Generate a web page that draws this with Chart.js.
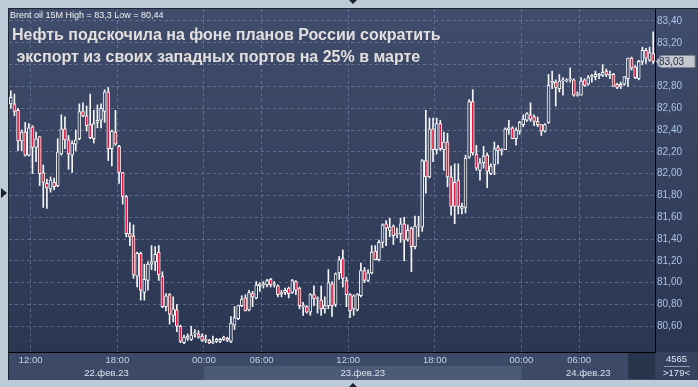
<!DOCTYPE html>
<html>
<head>
<meta charset="utf-8">
<script src="https://cdn.jsdelivr.net/npm/chart.js@4.4.0/dist/chart.umd.min.js"></script>
<style>
  html, body { margin: 0; padding: 0; background: #bfcad8; }
  body { width: 698px; height: 387px; position: relative; overflow: hidden; font-family: "Liberation Sans", Arial, sans-serif; }
  #frame { position: absolute; left: 8px; top: 8px; width: 690px; height: 372px; box-sizing: border-box;
           border-left: 1px solid #1d2434; border-top: 1px solid #1d2434; }
  canvas { display: block; }
  .hdr { position: absolute; left: 10px; top: 11px; font-size: 9px; line-height: 9px; color: #f2f2f2; white-space: pre; }
  .title { position: absolute; left: 12px; font-size: 16px; line-height: 16px; font-weight: bold; color: #e3dfdf; white-space: pre; }
  .tri { position: absolute; width: 0; height: 0; }
</style>
</head>
<body>

<div id="frame">
  <canvas id="brentChart" width="689" height="371"></canvas>
</div>

<div class="hdr">Brent oil 15M High = 83,3 Low = 80,44</div>
<div class="title" style="top:27px">Нефть подскочила на фоне планов России сократить</div>
<div class="title" style="top:49px"> экспорт из своих западных портов на 25% в марте</div>

<div class="tri" style="left:1px; top:188px; border-left:6px solid #1b2030; border-top:5px solid transparent; border-bottom:5px solid transparent;"></div>
<div class="tri" style="left:349px; top:0; border-top:4px solid #1b2030; border-left:4px solid transparent; border-right:4px solid transparent;"></div>
<div class="tri" style="left:349px; top:383px; border-bottom:4px solid #1b2030; border-left:4px solid transparent; border-right:4px solid transparent;"></div>

<script>
// ============================================
// BRENT OIL 15M — DATA
// ============================================

const OPEN = [
  82.64, 82.64, 82.58, 82.30, 82.38, 82.17, 82.43, 82.24, 82.34, 82.01,
  81.91, 81.86, 81.92, 81.89, 82.18, 82.41, 82.31, 82.17, 82.27, 82.32,
  82.57, 82.53, 82.45, 82.32, 82.47, 82.49, 82.57, 82.75, 82.23, 82.38,
  82.25, 82.01, 81.79, 81.45, 81.43, 81.06, 81.27, 80.91, 81.02, 81.17,
  81.19, 81.28, 81.06, 80.78, 80.89, 80.70, 80.75, 80.60, 80.45, 80.49,
  80.48, 80.53, 80.53, 80.51, 80.47, 80.47, 80.45, 80.46, 80.46, 80.50,
  80.47, 80.46, 80.61, 80.67, 80.79, 80.86, 80.75, 80.90, 80.86, 80.97,
  80.98, 80.98, 81.03, 80.98, 80.97, 80.90, 80.91, 80.95, 80.91, 81.01,
  80.95, 80.78, 80.78, 80.73, 80.89, 80.85, 80.84, 80.76, 80.79, 80.99,
  80.80, 81.09, 81.22, 81.02, 80.89, 80.76, 80.75, 80.88, 81.11, 81.02,
  81.09, 81.29, 81.21, 81.37, 81.54, 81.48, 81.52, 81.44, 81.45, 81.54,
  81.40, 81.50, 81.33, 81.52, 81.51, 82.12, 81.97, 82.41, 82.22, 82.46,
  82.22, 82.29, 81.97, 81.92, 81.94, 81.68, 81.69, 82.15, 82.66, 82.18,
  82.03, 82.10, 82.17, 82.00, 82.08, 82.24, 82.21, 82.22, 82.40, 82.42,
  82.32, 82.39, 82.45, 82.49, 82.54, 82.52, 82.48, 82.45, 82.39, 82.47,
  82.83, 82.84, 82.78, 82.85, 82.85, 82.86, 82.86, 82.72, 82.72, 82.86,
  82.82, 82.89, 82.89, 82.90, 82.90, 82.94, 82.90, 82.91, 82.82, 82.80,
  82.82, 82.87, 83.06, 82.98, 82.87, 83.03, 83.13, 83.04, 83.10
];

const HIGH = [
  82.76, 82.73, 82.60, 82.40, 82.47, 82.46, 82.44, 82.38, 82.34, 82.08,
  81.95, 81.97, 81.96, 82.32, 82.54, 82.52, 82.35, 82.30, 82.40, 82.64,
  82.65, 82.62, 82.73, 82.58, 82.63, 82.64, 82.77, 82.79, 82.40, 82.58,
  82.26, 82.01, 81.80, 81.55, 81.53, 81.28, 81.28, 81.17, 81.19, 81.34,
  81.33, 81.34, 81.10, 80.90, 80.90, 80.87, 80.80, 80.61, 80.52, 80.53,
  80.60, 80.57, 80.56, 80.53, 80.52, 80.48, 80.51, 80.49, 80.49, 80.51,
  80.50, 80.69, 80.78, 80.79, 80.88, 80.89, 80.93, 80.92, 81.01, 81.00,
  81.01, 81.03, 81.04, 81.01, 80.98, 80.93, 80.95, 80.96, 81.03, 81.02,
  80.96, 80.82, 80.79, 80.90, 80.97, 80.87, 80.97, 80.87, 81.12, 81.01,
  81.09, 81.24, 81.30, 81.05, 80.90, 80.89, 80.90, 81.18, 81.14, 81.12,
  81.34, 81.34, 81.39, 81.54, 81.57, 81.59, 81.53, 81.50, 81.59, 81.60,
  81.53, 81.51, 81.61, 81.61, 82.13, 82.58, 82.51, 82.51, 82.51, 82.49,
  82.38, 82.37, 82.07, 82.09, 82.09, 81.73, 82.17, 82.68, 82.77, 82.26,
  82.14, 82.25, 82.19, 82.09, 82.29, 82.26, 82.23, 82.42, 82.49, 82.43,
  82.42, 82.48, 82.54, 82.56, 82.65, 82.54, 82.52, 82.45, 82.46, 82.91,
  82.94, 82.86, 82.91, 82.88, 82.87, 82.97, 82.87, 82.75, 82.88, 82.87,
  82.90, 82.91, 82.94, 82.92, 83.00, 82.96, 82.94, 82.92, 82.83, 82.84,
  82.89, 83.06, 83.07, 82.99, 83.04, 83.16, 83.15, 83.16, 83.30
];

const LOW = [
  82.60, 82.53, 82.21, 82.21, 82.16, 82.16, 82.00, 82.11, 81.89, 81.69,
  81.68, 81.83, 81.85, 81.88, 82.17, 82.23, 82.04, 82.01, 82.21, 82.31,
  82.52, 82.39, 82.32, 82.28, 82.42, 82.42, 82.47, 82.12, 82.07, 82.26,
  81.91, 81.72, 81.42, 81.34, 81.04, 80.96, 80.84, 80.84, 80.93, 81.12,
  81.11, 81.02, 80.77, 80.74, 80.62, 80.64, 80.55, 80.45, 80.44, 80.47,
  80.47, 80.50, 80.49, 80.46, 80.45, 80.44, 80.44, 80.45, 80.45, 80.47,
  80.46, 80.45, 80.57, 80.66, 80.78, 80.74, 80.74, 80.78, 80.85, 80.92,
  80.95, 80.96, 80.96, 80.96, 80.87, 80.87, 80.89, 80.86, 80.90, 80.89,
  80.76, 80.70, 80.72, 80.70, 80.79, 80.72, 80.70, 80.72, 80.76, 80.69,
  80.78, 81.03, 80.96, 80.78, 80.68, 80.70, 80.74, 80.87, 81.00, 81.01,
  81.08, 81.21, 81.20, 81.32, 81.34, 81.42, 81.35, 81.41, 81.37, 81.20,
  81.38, 81.10, 81.31, 81.42, 81.47, 81.82, 81.96, 82.11, 82.18, 82.21,
  82.03, 81.88, 81.62, 81.54, 81.63, 81.63, 81.64, 82.14, 82.17, 82.03,
  81.94, 82.05, 81.87, 81.99, 81.99, 82.09, 82.17, 82.22, 82.36, 82.32,
  82.26, 82.36, 82.43, 82.48, 82.48, 82.44, 82.43, 82.35, 82.38, 82.46,
  82.78, 82.62, 82.75, 82.72, 82.84, 82.84, 82.71, 82.71, 82.72, 82.80,
  82.81, 82.84, 82.86, 82.87, 82.89, 82.89, 82.87, 82.80, 82.78, 82.78,
  82.81, 82.80, 82.95, 82.87, 82.86, 83.00, 83.01, 83.03, 83.01
];

const CLOSE = [
  82.70, 82.57, 82.30, 82.38, 82.17, 82.42, 82.24, 82.32, 82.00, 81.92,
  81.87, 81.94, 81.88, 82.20, 82.41, 82.31, 82.18, 82.28, 82.31, 82.57,
  82.53, 82.44, 82.33, 82.46, 82.49, 82.60, 82.75, 82.23, 82.39, 82.27,
  82.01, 81.79, 81.45, 81.42, 81.07, 81.27, 80.93, 81.03, 81.17, 81.19,
  81.26, 81.07, 80.78, 80.88, 80.71, 80.76, 80.60, 80.46, 80.50, 80.51,
  80.52, 80.54, 80.50, 80.47, 80.48, 80.45, 80.46, 80.48, 80.48, 80.48,
  80.49, 80.63, 80.68, 80.79, 80.85, 80.74, 80.91, 80.87, 80.98, 80.99,
  80.99, 81.02, 80.98, 80.99, 80.89, 80.91, 80.93, 80.90, 81.02, 80.93,
  80.79, 80.79, 80.73, 80.89, 80.85, 80.86, 80.76, 80.79, 81.00, 80.79,
  81.08, 81.21, 81.04, 80.89, 80.74, 80.88, 80.89, 81.11, 81.02, 81.09,
  81.28, 81.21, 81.37, 81.53, 81.50, 81.51, 81.43, 81.45, 81.54, 81.39,
  81.48, 81.33, 81.52, 81.53, 82.12, 81.97, 82.41, 82.22, 82.46, 82.23,
  82.29, 81.97, 81.70, 81.70, 81.70, 81.70, 82.14, 82.66, 82.19, 82.05,
  82.10, 82.16, 82.02, 82.07, 82.23, 82.21, 82.22, 82.41, 82.42, 82.32,
  82.40, 82.47, 82.50, 82.55, 82.50, 82.48, 82.45, 82.39, 82.45, 82.81,
  82.85, 82.79, 82.85, 82.86, 82.86, 82.87, 82.72, 82.73, 82.85, 82.81,
  82.88, 82.90, 82.91, 82.91, 82.93, 82.91, 82.91, 82.80, 82.79, 82.82,
  82.89, 83.06, 82.97, 82.88, 83.03, 83.13, 83.06, 83.11, 83.03
];

// time labels: candle index where each one sits
const TICK_INDEX = [6, 30, 54, 70, 94, 118, 142, 158];
const TICK_LABELS = ["12:00", "18:00", "00:00", "06:00", "12:00", "18:00", "00:00", "06:00"];

// trading days: first candle of each day
const DAY_START = [0, 54, 142];
const DAY_LABELS = ["22.фев.23", "23.фев.23", "24.фев.23"];

const Y_TICKS = [80.6, 80.8, 81.0, 81.2, 81.4, 81.6, 81.8, 82.0, 82.2, 82.4, 82.6, 82.8, 83.0, 83.2, 83.4];
const LAST_PRICE = 83.03;
const BAR_COUNT = "4565";
const VISIBLE_BARS = ">179<";


// ============================================
// STYLE
// ============================================

const RED = "#e5163d";
const WICK = "#f6f6f6";
const GRID_COLOR = "rgba(128,146,180,0.55)";
const Y_MIN = 80.364;
const Y_MAX = 83.51;

const fmt = v => v.toFixed(2).replace(".", ",");

let gradCache = null;

function plotGradient(chart) {
  const a = chart.chartArea;
  if (!a) return "#35425f";
  if (gradCache && gradCache.bottom === a.bottom) return gradCache.g;
  const g = chart.ctx.createLinearGradient(0, a.top, 0, a.bottom);
  g.addColorStop(0, "#3f4c6b");
  g.addColorStop(1, "#2b3652");
  gradCache = { bottom: a.bottom, g };
  return g;
}


// ============================================
// BACKDROP + OVERLAYS
// ============================================

const backdrop = {
  id: "backdrop",
  beforeDraw(chart) {
    const { ctx, chartArea: a, width, height } = chart;
    const step = (a.right - a.left) / OPEN.length;

    ctx.save();
    ctx.fillStyle = plotGradient(chart);
    ctx.fillRect(0, 0, width, a.bottom);

    // time + date band
    ctx.fillStyle = "#3c4967";
    ctx.fillRect(0, a.bottom, width, height - a.bottom);

    DAY_START.forEach((s, d) => {
      if (d % 2 === 0) return;
      const x0 = a.left + s * step;
      const x1 = d + 1 < DAY_START.length ? a.left + DAY_START[d + 1] * step : a.right;
      ctx.fillStyle = "#4b5a77";
      ctx.fillRect(x0, a.bottom + 14, x1 - x0, height - a.bottom - 14);
    });

    ctx.fillStyle = "#28334c";
    ctx.fillRect(a.right - 27, a.bottom + 1, 27, height - a.bottom - 2);

    // corner
    ctx.fillStyle = "#35425e";
    ctx.fillRect(a.right, a.bottom, width - a.right, height - a.bottom);
    ctx.restore();
  },

  afterDraw(chart) {
    const { ctx, chartArea: a, width } = chart;
    const ys = chart.scales.y;
    const step = (a.right - a.left) / OPEN.length;

    ctx.save();
    ctx.font = "9.5px 'Liberation Sans', Arial, sans-serif";
    ctx.textAlign = "center";
    ctx.textBaseline = "middle";
    ctx.fillStyle = "#dde4ef";

    DAY_START.forEach((s, d) => {
      const x0 = a.left + s * step;
      const x1 = d + 1 < DAY_START.length ? a.left + DAY_START[d + 1] * step : a.right;
      ctx.fillText(DAY_LABELS[d], (x0 + x1) / 2, a.bottom + 21);
    });

    // corner counters
    const cx = (a.right + width) / 2;
    ctx.fillText(BAR_COUNT, cx, a.bottom + 7);
    ctx.fillText(VISIBLE_BARS, cx, a.bottom + 21);
    ctx.strokeStyle = "#8a98b0";
    ctx.lineWidth = 1;
    ctx.beginPath();
    ctx.moveTo(a.right + 9, a.bottom + 14.5);
    ctx.lineTo(width - 8, a.bottom + 14.5);
    ctx.stroke();

    // last price tag
    const py = Math.round(ys.getPixelForValue(LAST_PRICE)) + 0.5;
    const x0 = a.right + 1;
    ctx.beginPath();
    ctx.moveTo(x0, py);
    ctx.lineTo(x0 + 5, py - 6);
    ctx.lineTo(width - 3, py - 6);
    ctx.lineTo(width - 3, py + 6);
    ctx.lineTo(x0 + 5, py + 6);
    ctx.closePath();
    ctx.fillStyle = "#c5c8ce";
    ctx.fill();
    ctx.strokeStyle = "#7d8594";
    ctx.stroke();

    ctx.fillStyle = "#1d2b4a";
    ctx.font = "10px 'Liberation Sans', Arial, sans-serif";
    ctx.textAlign = "left";
    ctx.fillText(fmt(LAST_PRICE), x0 + 3, py + 0.5);
    ctx.restore();
  }
};


// ============================================
// CANDLE CHART
// ============================================

function renderBrentChart() {

  const ctx = document.getElementById("brentChart");

  return new Chart(ctx, {
    type: "bar",
    data: {
      labels: OPEN.map((_, i) => i),
      datasets: [
        {
          label: "Wick",
          data: LOW.map((l, i) => [l, HIGH[i]]),
          backgroundColor: WICK,
          barThickness: 1,
          grouped: false,
          order: 2
        },
        {
          label: "Body",
          data: OPEN.map((o, i) => [o, CLOSE[i]]),
          backgroundColor: c =>
            CLOSE[c.dataIndex] < OPEN[c.dataIndex] ? RED : plotGradient(c.chart),
          borderColor: WICK,
          borderWidth: 1,
          borderSkipped: false,
          barThickness: 3,
          grouped: false,
          order: 1
        }
      ]
    },
    options: {
      responsive: false,
      animation: false,
      layout: { padding: 0 },
      plugins: {
        legend: { display: false },
        tooltip: { enabled: false }
      },
      scales: {
        x: {
          afterFit: s => { s.height = 28; s.paddingLeft = 0; s.paddingRight = 0; },
          grid: {
            offset: true,
            drawTicks: false,
            color: c => TICK_INDEX.includes(c.index) ? GRID_COLOR : "transparent"
          },
          border: { color: "#000", width: 1, dash: [3, 3] },
          ticks: {
            autoSkip: false,
            maxRotation: 0,
            minRotation: 0,
            padding: 3,
            labelOffset: -1.8,
            color: "#c3d0e6",
            font: { family: "'Liberation Sans', Arial, sans-serif", size: 9.5 },
            callback: (v, i) => {
              const k = TICK_INDEX.indexOf(i);
              return k >= 0 ? TICK_LABELS[k] : "";
            }
          }
        },
        y: {
          position: "right",
          min: Y_MIN,
          max: Y_MAX,
          afterBuildTicks: s => { s.ticks = Y_TICKS.map(v => ({ value: v })); },
          afterFit: s => { s.width = 43; s.paddingTop = 0; s.paddingBottom = 0; },
          grid: { color: GRID_COLOR, drawTicks: false },
          border: { color: "#000", width: 1, dash: [3, 3] },
          ticks: {
            padding: 2,
            color: "#aac4ea",
            font: { family: "'Liberation Sans', Arial, sans-serif", size: 10 },
            callback: v => fmt(v)
          }
        }
      }
    },
    plugins: [backdrop]
  });

}

renderBrentChart();
</script>
</body>
</html>
